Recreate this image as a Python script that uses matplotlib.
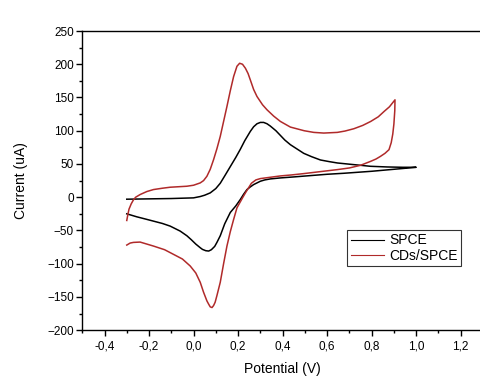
import matplotlib.pyplot as plt
from matplotlib.ticker import MultipleLocator, FuncFormatter

plt.rcParams['font.family'] = ['Liberation Sans', 'DejaVu Sans']

# SPCE: forward then reverse scan (V, uA)
spce_v = [-0.30, -0.20, -0.10, 0.00, 0.03, 0.05, 0.075, 0.10, 0.12, 0.14, 0.165, 0.19,
          0.21, 0.23, 0.255, 0.27, 0.285, 0.30, 0.315, 0.33, 0.345, 0.37, 0.39, 0.41,
          0.435, 0.495, 0.53, 0.57, 0.61, 0.646, 0.72, 0.795, 0.87, 0.94, 1.00,
          0.90, 0.80, 0.675, 0.60, 0.45, 0.39, 0.345, 0.32, 0.30, 0.27, 0.255, 0.24,
          0.225, 0.21, 0.19, 0.165, 0.14, 0.12, 0.105, 0.095, 0.08, 0.068, 0.055, 0.04,
          0.03, 0.01, -0.01, -0.03, -0.06, -0.105, -0.14, -0.18, -0.22, -0.255, -0.30]
spce_i = [-3, -2.5, -2, -1, 1, 3, 6.5, 13, 21, 32, 46, 60,
          72, 85, 99, 106, 110.5, 112.5, 112.5, 110.5, 107, 100, 93, 86,
          79, 66, 61, 56, 53.5, 51.5, 49, 46.5, 45.5, 45, 45,
          42, 39, 36, 34.5, 30.5, 29, 27.5, 26, 24, 19, 15.5, 11.5,
          4.5, -3.5, -13, -23, -40, -58, -68, -74, -79, -81, -80.5, -78.5,
          -76, -70.5, -64, -58, -51, -43.5, -39.5, -36, -32.5, -29.5, -25]

# CDs/SPCE: forward then reverse scan
cds_v = [-0.30, -0.295, -0.29, -0.28, -0.27, -0.26, -0.24, -0.21, -0.18, -0.14, -0.105,
         -0.03, 0.00, 0.03, 0.045, 0.06, 0.075, 0.09, 0.105, 0.12, 0.135, 0.15, 0.165,
         0.18, 0.195, 0.207, 0.22, 0.233, 0.245, 0.255, 0.27, 0.285, 0.31, 0.33, 0.36,
         0.39, 0.435, 0.497, 0.54, 0.585, 0.646, 0.68, 0.72, 0.76, 0.796, 0.83, 0.856,
         0.88, 0.905,
         0.904, 0.90, 0.895, 0.888, 0.878, 0.86, 0.84, 0.82, 0.796, 0.75, 0.70, 0.646,
         0.57, 0.495, 0.44, 0.39, 0.345, 0.30, 0.28, 0.26, 0.245, 0.233, 0.22, 0.21,
         0.195, 0.18, 0.165, 0.15, 0.135, 0.12, 0.105, 0.097, 0.09, 0.083, 0.075, 0.068,
         0.06, 0.045, 0.03, 0.01, -0.015, -0.05, -0.09, -0.13, -0.18, -0.24, -0.27,
         -0.285, -0.30]
cds_i = [-35, -26, -18, -10, -4, 0, 4, 8.5, 11.5, 13.5, 15,
         16.5, 18, 21.5, 25, 31.5, 42, 56.5, 73, 91.5, 114, 136.5, 160,
         181.5, 197, 201.5, 200, 194, 186, 176.5, 162, 151.5, 139, 131.5, 122,
         114, 105.5, 100, 97.5, 96.5, 97.5, 99.5, 103, 108, 114, 121, 129,
         136, 146.5,
         130, 110, 95, 82, 71.5, 66, 61.5, 57.5, 54, 48, 44, 41.5,
         38.5, 35.5, 33.5, 32, 30, 28, 26, 21, 13, 6.5, -1, -7,
         -16, -33.5, -52, -73.5, -100, -128, -148, -158, -163, -166, -165, -161,
         -156, -143, -128, -114, -103.5, -93, -86, -79, -73.5, -67.5, -68,
         -69, -72]

fig = plt.figure(figsize=(4.81, 3.83), dpi=100)
ax = fig.add_axes([0.171, 0.138, 0.833, 0.781])

ax.plot(spce_v, spce_i, color='black', lw=1.1, label='SPCE')
ax.plot(cds_v, cds_i, color='#b02a2a', lw=1.1, label='CDs/SPCE')

ax.set_xlim(-0.5, 1.3)
ax.set_ylim(-200, 250)
ax.spines['right'].set_visible(False)
for s in ['top', 'left', 'bottom']:
    ax.spines[s].set_linewidth(1.0)

ax.xaxis.set_major_locator(MultipleLocator(0.2))
ax.xaxis.set_minor_locator(MultipleLocator(0.1))
ax.yaxis.set_major_locator(MultipleLocator(50))
ax.yaxis.set_minor_locator(MultipleLocator(25))
ax.xaxis.set_major_formatter(FuncFormatter(lambda v, p: ('%.1f' % v).replace('.', ',').replace('-0,0', '0,0')))
ax.tick_params(which='major', direction='out', length=4, width=1, labelsize=8.5)
ax.tick_params(which='minor', direction='out', length=2.5, width=1)
ax.tick_params(axis='y', pad=2)

ax.set_xlabel('Potential (V)', fontsize=10, labelpad=7)
ax.set_ylabel('Current (uA)', fontsize=10, labelpad=14)

leg = ax.legend(loc='upper left', bbox_to_anchor=(0.662, 0.335), fontsize=10,
                frameon=True, fancybox=False, edgecolor='black', handlelength=2.4,
                borderpad=0.25, labelspacing=0.1, handletextpad=0.35, borderaxespad=0)
leg.get_frame().set_linewidth(0.8)
for line in leg.get_lines():
    line.set_linewidth(0.8)

fig.savefig('out.png', dpi=100)
